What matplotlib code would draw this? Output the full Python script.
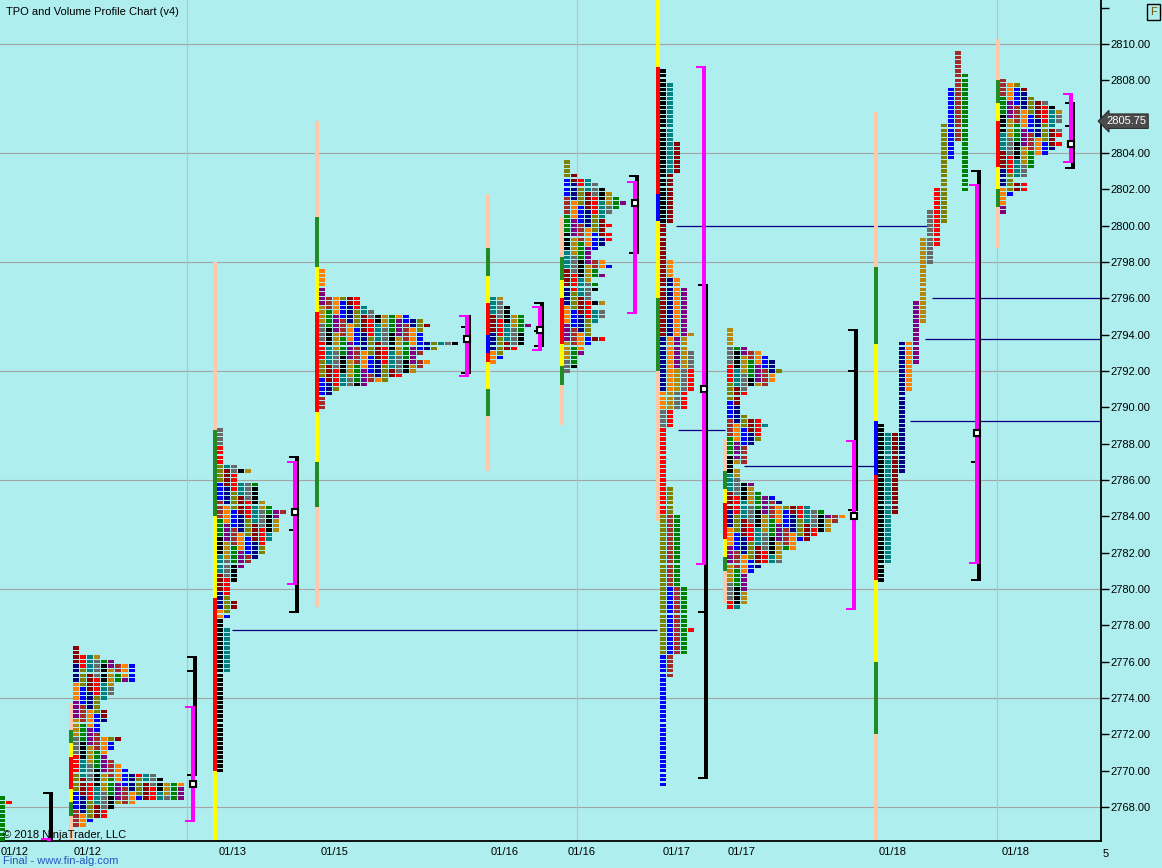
import matplotlib
matplotlib.use('Agg')
import matplotlib.pyplot as plt

plt.rcParams['font.family'] = ['Liberation Sans', 'DejaVu Sans']

# ------------------------------------------------------------------ data
PERIOD_COLORS = ['#000000', '#008080', '#8B0000', '#000080', '#FF8000', '#800080',
                 '#B8860B', '#696969', '#FF0000', '#808000', '#0000FF', '#A52A2A', '#008000']
LETTERS = 'ABCDEFGHIJKLM'
BAR_COLORS = {'P': '#FFC8AA', 'G': '#228B22', 'Y': '#FFFF00', 'R': '#FF0000', 'B': '#0000FF'}

DATES = ['01/12', '01/12', '01/13', '01/15', '01/16', '01/16', '01/17', '01/17', '01/18', '01/18']

# TPO rows given as widths (number of TPOs per 0.25 row, from the top row down)
P1_TOP = 2776.75
P1_W = [1, 1, 4, 6, 9, 9, 9, 9, 6, 6, 6, 5, 4, 4, 5, 5, 5, 4, 4, 4, 7, 6, 6, 5, 5, 6, 7, 8, 12, 13,
        16, 16, 16, 16, 9, 6, 5, 5, 3, 2]
P2_TOP = 2788.75
P2_W = [1, 1, 1, 1, 1, 1, 1, 1, 3, 5, 3, 3, 6, 6, 6, 6, 7, 8, 10, 9, 9, 9, 9, 8, 8, 7, 7, 7, 6, 5,
        4, 3, 3, 3, 2, 2, 2, 2, 3, 3, 2, 2]
P3_TOP = 2797.5
P3_W = [1, 1, 1, 1, 1, 1, 6, 6, 7, 8, 13, 15, 16, 15, 15, 15, 20, 17, 15, 14, 16, 15, 14, 12, 10, 7,
        3, 2, 1, 1, 1]
P4_TOP = 2796.0
P4_W = [2, 2, 3, 3, 5, 5, 6, 5, 5, 5, 5, 4, 2, 2, 1]
P5_TOP = 2803.5
P5_W = [1, 1, 1, 2, 4, 5, 6, 7, 8, 9, 8, 7, 6, 6, 7, 6, 7, 7, 6, 5, 4, 4, 6, 7, 5, 6, 4, 5, 5, 4,
        4, 6, 4, 6, 6, 5, 4, 4, 4, 6, 4, 3, 3, 2, 2, 2, 1]
P7_TOP = 2794.25
P7_W = [1, 1, 1, 1, 3, 5, 6, 7, 7, 8, 7, 7, 6, 3, 3, 2, 2, 2, 2, 3, 5, 6, 5, 5, 5, 4, 3, 3, 3, 3,
        1, 2, 2, 2, 4, 4, 5, 7, 8, 12, 14, 17, 16, 15, 15, 13, 12, 10, 10, 8, 8, 8, 5, 4, 3, 3, 3, 3,
        3, 3, 3, 2]
P9_TOP = 2808.0
P9_W = [1, 3, 4, 4, 5, 7, 8, 9, 9, 9, 8, 9, 9, 8, 9, 8, 7, 5, 5, 5, 4, 4, 2, 4, 4, 2, 1, 1, 1, 1]

# TPO rows given as periods (letter, high, low)
P0_LET = 'MI'
P0_HIGH = [2768.5, 2768.25]
P0_LOW = [2765.75, 2768.25]
P2B_LET = 'AB'
P2B_HIGH = [2778.25, 2777.75]
P2B_LOW = [2770.0, 2775.5]
P6_LET = 'ABCDEFGHIJKLMI'
P6_HIGH = [2808.5, 2807.75, 2804.5, 2797.0, 2798.0, 2796.5, 2794.0, 2793.0, 2792.0, 2785.5,
           2780.0, 2784.0, 2784.0, 2777.75]
P6_LOW = [2800.25, 2803.0, 2794.0, 2791.0, 2790.0, 2792.25, 2790.0, 2789.0, 2784.25, 2776.5,
          2769.25, 2775.25, 2776.5, 2777.75]
P8_LET = 'ABCDEFGHIJKLM'
P8_HIGH = [2789.0, 2788.5, 2788.5, 2793.5, 2793.5, 2795.75, 2799.25, 2800.75, 2802.0, 2805.5,
           2807.5, 2809.5, 2808.25]
P8_LOW = [2780.5, 2781.5, 2784.25, 2786.5, 2791.0, 2792.5, 2794.75, 2798.0, 2799.0, 2800.25,
          2803.75, 2804.75, 2802.0]

# session colour bars: edges from top down and segment colours
BAR_EDGES = [None,
             [2773.75, 2772.25, 2771.5, 2770.75, 2769.0, 2768.25, 2767.5, 2766.0],
             [2798.0, 2788.75, 2784.0, 2779.5, 2770.0, 2766.0],
             [2805.75, 2800.5, 2797.75, 2795.25, 2789.75, 2787.0, 2784.5, 2779.0],
             [2801.75, 2798.75, 2797.25, 2795.75, 2794.0, 2793.0, 2792.5, 2791.0, 2789.5, 2786.5],
             [2800.5, 2798.25, 2797.0, 2796.0, 2793.5, 2792.25, 2791.25, 2789.0],
             [2812.5, 2808.75, 2801.75, 2800.25, 2796.0, 2792.0, 2783.75],
             [2788.25, 2786.5, 2785.5, 2784.75, 2782.75, 2781.75, 2781.0, 2779.25],
             [2806.25, 2797.75, 2793.5, 2789.25, 2786.25, 2780.5, 2776.0, 2772.0, 2766.0],
             [2810.25, 2808.0, 2806.75, 2805.75, 2803.25, 2802.0, 2801.0, 2798.75]]
BAR_SEGS = [None, 'PGYRYGP', 'PGYRY', 'PGYRYGP', 'PGYRBRYGP', 'PGYRYGP', 'YRBYGP', 'PGYRYGP',
            'PGYBRYGP', 'PGYRYGP']

# initial-balance (black) and value-area (magenta) brackets, POC
IB_HIGH = [2768.75, 2776.25, 2787.25, 2795.0, 2795.75, 2802.75, 2796.75, 2794.25, 2803.0, 2806.75]
IB_LOW = [2765.0, 2769.75, 2778.75, 2791.9, 2793.4, 2798.5, 2769.6, 2784.35, 2780.5, 2803.2]
IB_MID = [None, 2775.5, 2783.25, 2794.4, 2794.2, None, 2778.75, 2792.0, 2787.0, 2805.5]
VA_HIGH = [2766.25, 2773.5, 2787.0, 2795.0, 2795.5, 2802.4, 2808.75, 2788.15, 2802.25, 2807.25]
VA_LOW = [2765.0, 2767.25, 2780.25, 2791.7, 2793.15, 2795.2, 2781.4, 2778.9, 2781.45, 2803.5]
POC = [None, 2769.25, 2784.25, 2793.75, 2794.25, 2801.25, 2791.0, 2784.0, 2788.6, 2804.5]

# naked POC lines
NPOC = [2777.75, 2800.0, 2796.0, 2793.75, 2789.25, 2788.75, 2786.75]

Y_TICKS = list(range(2768, 2813, 2))
GRID_PRICES = list(range(2768, 2811, 6))
LAST_PRICE = 2805.75

# ------------------------------------------------------------------ layout
BAR_X = [None, 69, 213, 315, 486, 560, 656, 723, 874, 996]
CELL_X0 = [-1, 73, 217, 319, 490, 564, 660, 727, 878, 1000]
BRK_X = [51, 194.5, 297, 469, 542, 637, 706, 856, 979, 1073]
NPOC_X = [(232, 657), (676, 929), (932, 1101), (925, 1101), (910, 1101), (678, 725), (744, 875)]
DATE_X = [15, 88, 233, 335, 505, 582, 677, 742, 893, 1016]
SEP_X = [187, 577, 997]

TICK = 0.25
PITCH = 7
CELL_W = 6
CELL_H = 0.19
PX = 1 / 18.167  # one pixel in price units
BG = '#AFEEEE'
FS = 8

fig = plt.figure(figsize=(11.62, 8.68), dpi=100)
fig.patch.set_facecolor(BG)
ax = fig.add_axes([0, 27 / 868, 1101 / 1162, 841 / 868])
ax.set_facecolor(BG)
ax.set_xlim(0, 1101)
ax.set_ylim(2766.13, 2812.42)

for p in GRID_PRICES:
    ax.axhline(p, color='#A4A4A4', lw=0.8, zorder=1)
for x in SEP_X:
    ax.axvline(x, color='#E2B0B0', lw=0.8, zorder=1)

for p, (x0, x1) in zip(NPOC, NPOC_X):
    ax.plot([x0, x1], [p, p], color='#000080', lw=0.9, zorder=2, solid_capstyle='butt')


def draw_cells(xs, ps, cs):
    ax.bar(xs, CELL_H, width=CELL_W, bottom=[p - CELL_H / 2 for p in ps], align='edge',
           color=cs, linewidth=0, zorder=3)


def widths_profile(x0, top, widths, seed):
    xs, ps, cs = [], [], []
    for r, w in enumerate(widths):
        p = top - r * TICK
        for c in range(w):
            xs.append(x0 + c * PITCH)
            ps.append(p)
            cs.append(PERIOD_COLORS[(c * 5 + (r + 3 * c) // 4 + seed) % 13])
    draw_cells(xs, ps, cs)


def period_profile(x0, letters, highs, lows, split=False):
    used = {}
    xs, ps, cs = [], [], []
    for i, (L, h, lo) in enumerate(zip(letters, highs, lows)):
        n = int(round((h - lo) / TICK))
        for k in range(n + 1):
            p = h - k * TICK
            key = int(round(p * 4))
            if split:
                c = i
            else:
                c = used.get(key, 0)
                used[key] = c + 1
            xs.append(x0 + c * PITCH)
            ps.append(p)
            cs.append(PERIOD_COLORS[LETTERS.index(L)])
    draw_cells(xs, ps, cs)


# session colour bars
for i, edges in enumerate(BAR_EDGES):
    if edges is None:
        continue
    for j, seg in enumerate(BAR_SEGS[i]):
        ax.bar(BAR_X[i], edges[j] - edges[j + 1], width=4, bottom=edges[j + 1], align='edge',
               color=BAR_COLORS[seg], linewidth=0, zorder=2.5)

period_profile(CELL_X0[0], P0_LET, P0_HIGH, P0_LOW)
widths_profile(CELL_X0[1], P1_TOP, P1_W, 2)
widths_profile(CELL_X0[2], P2_TOP, P2_W, 7)
period_profile(CELL_X0[2], P2B_LET, P2B_HIGH, P2B_LOW)
widths_profile(CELL_X0[3], P3_TOP, P3_W, 4)
widths_profile(CELL_X0[4], P4_TOP, P4_W, 1)
widths_profile(CELL_X0[5], P5_TOP, P5_W, 9)
period_profile(CELL_X0[6], P6_LET, P6_HIGH, P6_LOW)
widths_profile(CELL_X0[7], P7_TOP, P7_W, 6)
period_profile(CELL_X0[8], P8_LET, P8_HIGH, P8_LOW, split=True)
widths_profile(CELL_X0[9], P9_TOP, P9_W, 11)


def bracket(xc, top, bot, mids, color, z):
    ax.bar(xc - 2, top - bot, width=4, bottom=bot, align='edge', color=color, linewidth=0, zorder=z)
    for p in [top, bot] + [m for m in mids if m is not None]:
        ax.bar(xc - 8, 2 * PX, width=10, bottom=p - PX, align='edge', color=color,
               linewidth=0, zorder=z)


for i in range(len(BRK_X)):
    bracket(BRK_X[i], IB_HIGH[i], IB_LOW[i], [IB_MID[i]], '#000000', 4)
    bracket(BRK_X[i] - 2, VA_HIGH[i], VA_LOW[i], [], '#FF00FF', 4.5)
    if POC[i] is not None:
        ax.plot(BRK_X[i] - 2, POC[i], marker='s', ms=4.2, mfc='white', mec='black', mew=1.5,
                zorder=6)

# axes styling
for s in ['top', 'left']:
    ax.spines[s].set_visible(False)
ax.spines['right'].set_linewidth(1.3)
ax.spines['bottom'].set_linewidth(1.3)
ax.yaxis.tick_right()
ax.set_yticks(Y_TICKS)
# the 2806 label is hidden behind the last-price tag, the 2812 one is cut off
ax.set_yticklabels([f'{v:.2f}' if v <= 2810 and abs(v - LAST_PRICE) > 1 else ''
                    for v in Y_TICKS])
ax.tick_params(axis='y', direction='out', length=6, width=1, pad=1, labelsize=FS,
               colors='black')
ax.set_xticks(DATE_X)
ax.set_xticklabels(DATES)
ax.tick_params(axis='x', length=0, pad=4, labelsize=FS)

ax.text(1106, LAST_PRICE, f'{LAST_PRICE:.2f}', color='white', fontsize=FS, va='center',
        ha='left', clip_on=False, zorder=10,
        bbox=dict(boxstyle='larrow,pad=0.2', fc='#4C4C4C', ec='#2C2C2C', lw=0.8))


def ftext(x, y, s, **kw):
    fig.text(x / 1162, 1 - y / 868, s, **kw)


ftext(6, 12, 'TPO and Volume Profile Chart (v4)', fontsize=FS, va='center', ha='left')
ftext(3, 835, '\u00a9 2018 NinjaTrader, LLC', fontsize=FS, va='center', ha='left')
ftext(3, 861, 'Final - www.fin-alg.com', fontsize=FS, va='center', ha='left', color='#2058C0')
ftext(1103, 854, '5', fontsize=FS, va='center', ha='left')
ftext(1153.5, 12, 'F', fontsize=8, va='center', ha='center', color='#705000',
      bbox=dict(boxstyle='square,pad=0.3', fc='none', ec='black', lw=1.0))

fig.savefig('out.png', dpi=100, facecolor=BG)
